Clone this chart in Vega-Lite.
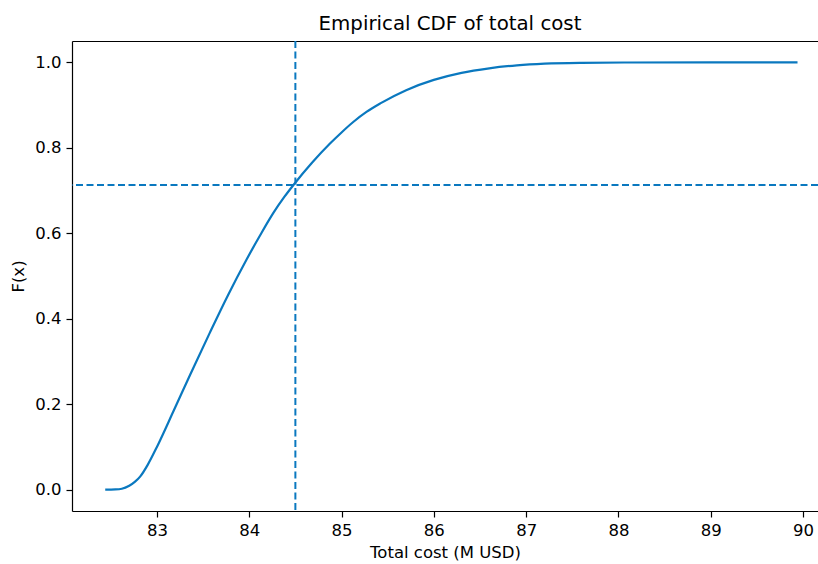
{
  "$schema": "https://vega.github.io/schema/vega-lite/v6.json",
  "width": 746,
  "height": 470,
  "autosize": {"type": "none"},
  "padding": {"left": 72, "top": 41, "right": 0, "bottom": 53},
  "background": "white",
  "config": {
    "view": {"stroke": null},
    "font": "DejaVu Sans",
    "axis": {
      "grid": false,
      "domainColor": "#000000",
      "tickColor": "#000000",
      "labelColor": "#000000",
      "titleColor": "#000000",
      "labelFont": "DejaVu Sans",
      "titleFont": "DejaVu Sans",
      "labelFontSize": 16.5,
      "titleFontSize": 16.5,
      "titleFontWeight": "normal",
      "tickSize": 6,
      "labelPadding": 5,
      "domainWidth": 1.2,
      "tickWidth": 1.2
    }
  },
  "title": {
    "text": "Empirical CDF of total cost",
    "font": "DejaVu Sans",
    "fontSize": 19.8,
    "fontWeight": "normal",
    "color": "#000000",
    "baseline": "bottom",
    "offset": -14,
    "dx": 5
  },
  "layer": [
    {
      "data": {
        "values": [
          {"cost": 82.44, "F": 0.0},
          {"cost": 82.55, "F": 0.0005},
          {"cost": 82.62, "F": 0.002},
          {"cost": 82.70, "F": 0.009},
          {"cost": 82.76, "F": 0.018},
          {"cost": 82.82, "F": 0.031},
          {"cost": 82.90, "F": 0.058},
          {"cost": 83.00, "F": 0.100},
          {"cost": 83.18, "F": 0.184},
          {"cost": 83.36, "F": 0.269},
          {"cost": 83.575, "F": 0.368},
          {"cost": 83.77, "F": 0.455},
          {"cost": 83.97, "F": 0.538},
          {"cost": 84.12, "F": 0.596},
          {"cost": 84.26, "F": 0.647},
          {"cost": 84.38, "F": 0.685},
          {"cost": 84.49, "F": 0.716},
          {"cost": 84.68, "F": 0.765},
          {"cost": 84.875, "F": 0.81},
          {"cost": 85.00, "F": 0.836},
          {"cost": 85.13, "F": 0.861},
          {"cost": 85.27, "F": 0.884},
          {"cost": 85.42, "F": 0.904},
          {"cost": 85.70, "F": 0.935},
          {"cost": 86.00, "F": 0.959},
          {"cost": 86.30, "F": 0.9755},
          {"cost": 86.60, "F": 0.986},
          {"cost": 86.90, "F": 0.993},
          {"cost": 87.20, "F": 0.997},
          {"cost": 87.60, "F": 0.999},
          {"cost": 88.10, "F": 0.9997},
          {"cost": 89.00, "F": 1.0},
          {"cost": 89.94, "F": 1.0}
        ]
      },
      "mark": {"type": "line", "interpolate": "monotone", "color": "#0a78bf", "strokeWidth": 2.2},
      "encoding": {
        "x": {
          "field": "cost",
          "type": "quantitative",
          "scale": {"domain": [82.08, 90.162], "nice": false, "zero": false},
          "axis": {"values": [83, 84, 85, 86, 87, 88, 89, 90], "format": "d", "title": "Total cost (M USD)", "titlePadding": 6}
        },
        "y": {
          "field": "F",
          "type": "quantitative",
          "scale": {"domain": [-0.05, 1.05], "nice": false, "zero": false},
          "axis": {"values": [0, 0.2, 0.4, 0.6, 0.8, 1.0], "format": ".1f", "title": "F(x)", "titlePadding": 8}
        }
      }
    },
    {
      "data": {"values": [{"cost": 84.5}]},
      "mark": {"type": "rule", "color": "#0a78bf", "strokeWidth": 2, "strokeDash": [7, 3.5]},
      "encoding": {
        "x": {
          "field": "cost",
          "type": "quantitative",
          "axis": {"orient": "top", "labels": false, "ticks": false, "title": null, "domain": true}
        }
      }
    },
    {
      "data": {"values": [{"F": 0.713}]},
      "mark": {"type": "rule", "color": "#0a78bf", "strokeWidth": 2, "strokeDash": [7, 3.5]},
      "encoding": {
        "y": {"field": "F", "type": "quantitative", "axis": null}
      }
    }
  ],
  "resolve": {"axis": {"x": "independent", "y": "independent"}}
}
